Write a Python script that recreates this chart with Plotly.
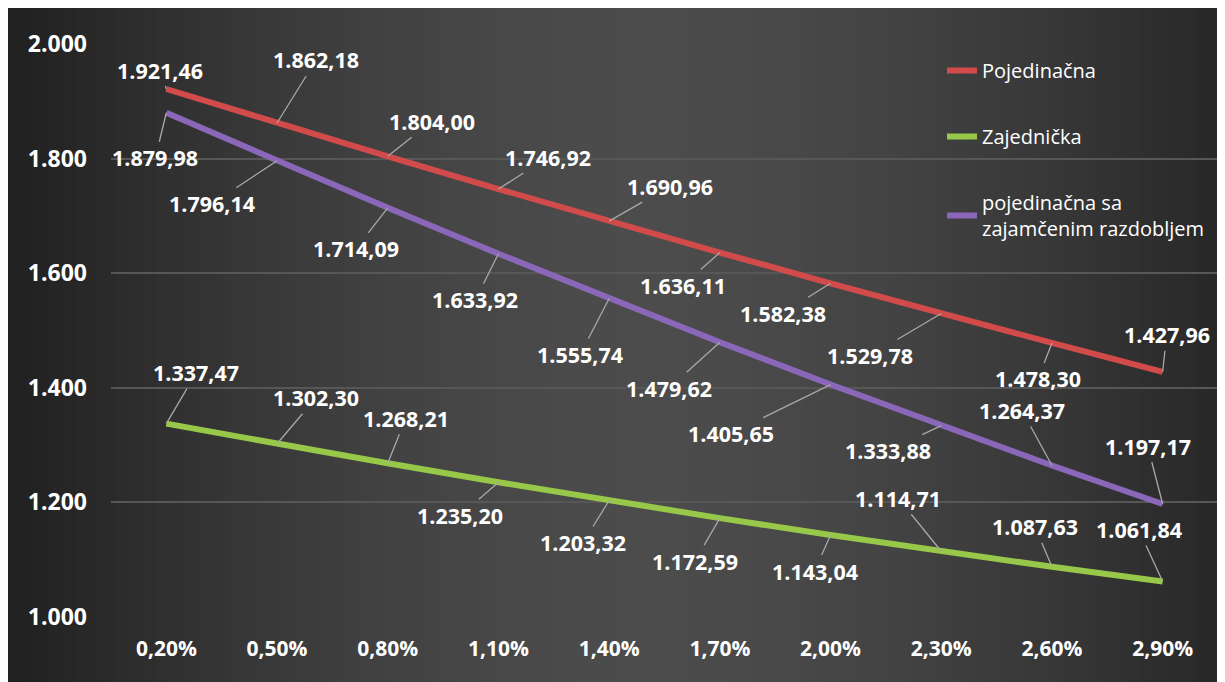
import plotly.graph_objects as go

# ---- data ----
categories = ["0,20%", "0,50%", "0,80%", "1,10%", "1,40%", "1,70%", "2,00%", "2,30%", "2,60%", "2,90%"]
pojedinacna = [1921.46, 1862.18, 1804.00, 1746.92, 1690.96, 1636.11, 1582.38, 1529.78, 1478.30, 1427.96]
zajednicka = [1337.47, 1302.30, 1268.21, 1235.20, 1203.32, 1172.59, 1143.04, 1114.71, 1087.63, 1061.84]
zajamceno = [1879.98, 1796.14, 1714.09, 1633.92, 1555.74, 1479.62, 1405.65, 1333.88, 1264.37, 1197.17]
series_names = ["Pojedinačna", "Zajednička", "pojedinačna sa<br>zajamčenim razdobljem"]
y_ticks = [1000, 1200, 1400, 1600, 1800, 2000]

# ---- style ----
colors = ["#d24b4b", "#98c84a", "#8a67b8"]
FONT = "Open Sans"
W, H = 1215, 674
ML, MR, MT, MB = 103, 5, 36, 65
PW, PH = W - ML - MR, H - MT - MB

# label offsets (pixels) for each series, per point
off_red = [(-6, -19), (39, -63), (44, -35), (50, -32), (61, -35), (-37, 33), (-48, 30), (-71, 42), (-14, 36), (4, -37)]
off_green = [(30, -51), (39, -46), (18, -45), (-38, 33), (-26, 42), (-25, 43), (-16, 36), (-43, -53), (-17, -40), (-24, -52)]
off_purple = [(-11, 45), (-65, 43), (-32, 41), (-23, 46), (-29, 56), (-51, 46), (-100, 49), (-53, 25), (-30, -55), (-15, -58)]


def fmt(v):
    s = f"{v:,.2f}"
    return s.replace(",", "X").replace(".", ",").replace("X", ".")


def px_to_paper_x(px):
    return (px - ML) / PW


def px_to_paper_y(py):
    return (H - MB - py) / PH


fig = go.Figure()
for vals, name, col in zip([pojedinacna, zajednicka, zajamceno], series_names, colors):
    fig.add_trace(go.Scatter(
        x=categories, y=vals, name=name, mode="lines",
        line=dict(color=col, width=6),
        legendgroup=name, hoverinfo="skip",
    ))

annotations = []
for vals, offs in [(pojedinacna, off_red), (zajednicka, off_green), (zajamceno, off_purple)]:
    for c, v, (ax, ay) in zip(categories, vals, offs):
        annotations.append(dict(
            x=c, y=v, xref="x", yref="y", text=fmt(v),
            showarrow=True, arrowhead=0, arrowwidth=1.3, arrowcolor="#a8a8a8",
            ax=ax, ay=ay, standoff=0,
            font=dict(family=FONT, size=21.5, color="white", weight="bold"),
        ))

# background: dark panel with horizontal gradient (style only)
shapes = []
n = 90
step = W / n
cx = 642.0
for i in range(n):
    xa = i * step
    xm = xa + step / 2
    d = min(abs(xm - cx) / 640.0, 1.0)
    L = int(round(32 + (76 - 32) * (1 - d ** 1.6)))
    col = f"rgb({L},{L},{L})"
    shapes.append(dict(type="rect", xref="paper", yref="paper",
                       x0=px_to_paper_x(xa), x1=px_to_paper_x(xa + step + 0.8),
                       y0=px_to_paper_y(H + 2), y1=px_to_paper_y(-2),
                       fillcolor=col, line=dict(width=0), layer="below"))

fig.update_layout(
    width=W, height=H,
    margin=dict(l=ML, r=MR, t=MT, b=MB),
    paper_bgcolor="#262626", plot_bgcolor="rgba(0,0,0,0)",
    separators=",.",
    showlegend=True,
    legend=dict(
        x=px_to_paper_x(934), y=px_to_paper_y(43), xanchor="left", yanchor="top",
        bgcolor="rgba(0,0,0,0)", font=dict(family=FONT, size=20, color="white"),
        tracegroupgap=37, itemwidth=30,
    ),
    xaxis=dict(type="category", range=[-0.5, 9.5], showgrid=False, zeroline=False,
               showline=False, ticks="", ticklabelstandoff=17,
               tickfont=dict(family=FONT, size=21, color="white", weight="bold")),
    yaxis=dict(range=[1000, 2000], tickvals=y_ticks, tickformat=",.0f",
               showgrid=True, gridcolor="#575757", gridwidth=2, zeroline=False,
               showline=False, ticks="", ticklabelstandoff=23,
               tickfont=dict(family=FONT, size=23, color="white", weight="bold")),
    annotations=annotations,
    shapes=shapes,
)

fig.write_html("out.html")
